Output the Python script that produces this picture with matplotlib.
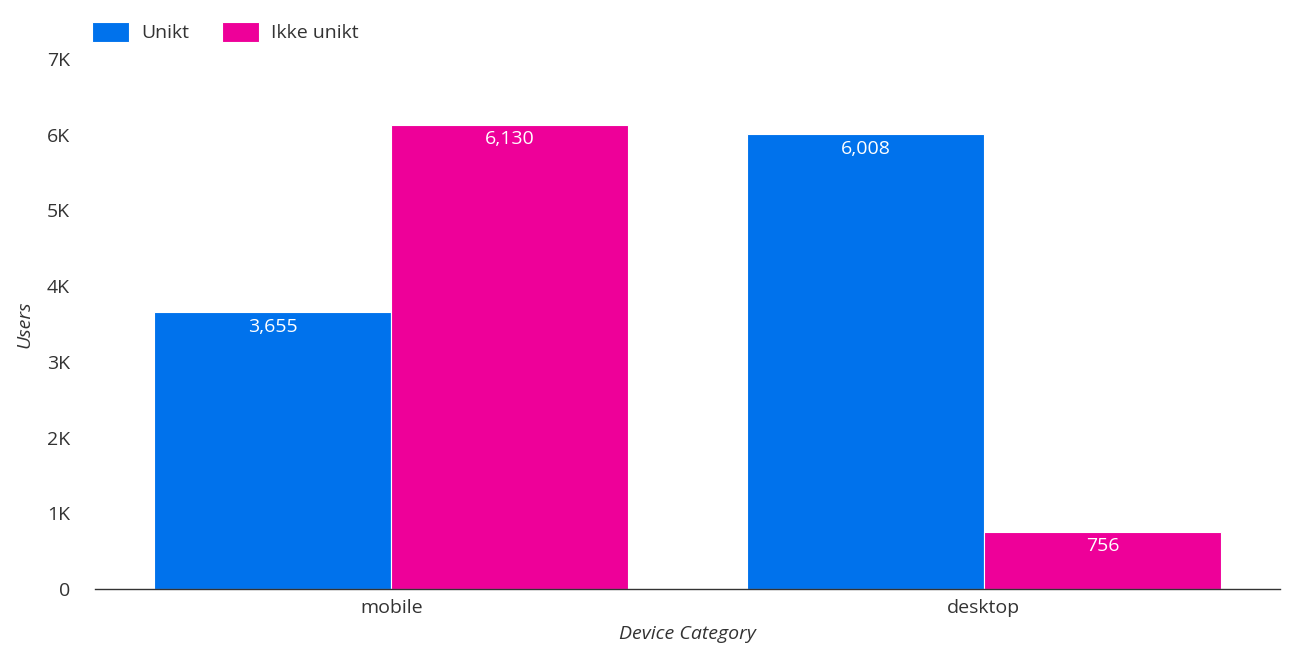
import matplotlib.pyplot as plt
import numpy as np
from matplotlib.ticker import FuncFormatter

plt.rcParams['font.family'] = ['Open Sans', 'DejaVu Sans']

categories = ["mobile", "desktop"]
series_names = ["Unikt", "Ikke unikt"]
unikt = [3655, 6008]
ikke_unikt = [6130, 756]
colors = ["#0072EC", "#EE0099"]

fig = plt.figure(figsize=(13.11, 6.52), dpi=100)
ax = fig.add_axes([0.0725, 0.0966, 0.904, 0.8129])

x = np.arange(len(categories))
w = 0.4
for i, (vals, name) in enumerate(zip([unikt, ikke_unikt], series_names)):
    pos = x + (i - 0.5) * w
    bars = ax.bar(pos, vals, width=w, color=colors[i], label=name,
                  edgecolor="white", linewidth=0.8, zorder=2)
    for b, v in zip(bars, vals):
        ax.annotate(f"{v:,}", (b.get_x() + b.get_width() / 2, v),
                    xytext=(0, -4), textcoords="offset points",
                    ha="center", va="top", color="white", fontsize=14)

ax.set_xlim(-0.5, 1.5)
ax.set_ylim(0, 7000)
ax.set_yticks(range(0, 7001, 1000))
ax.yaxis.set_major_formatter(FuncFormatter(lambda v, p: "0" if v == 0 else f"{int(v / 1000)}K"))
ax.set_xticks(x)
ax.set_xticklabels(categories)
ax.tick_params(axis="both", length=0, labelsize=14, colors="#333333", pad=7)
ax.tick_params(axis="y", pad=18)

for s in ["top", "right", "left"]:
    ax.spines[s].set_visible(False)
ax.spines["bottom"].set_color("#333333")
ax.spines["bottom"].set_linewidth(1.0)

ax.set_xlabel("Device Category", fontstyle="italic", fontsize=14, color="#333333", labelpad=6)
ax.set_ylabel("Users", fontstyle="italic", fontsize=14, color="#333333", labelpad=10)

ax.legend(loc="upper left", bbox_to_anchor=(-0.017, 1.103), ncol=2, frameon=False,
          fontsize=14, handlelength=1.9, handleheight=1.2, columnspacing=1.7,
          handletextpad=0.6, labelcolor="#333333")

fig.savefig("out.png", dpi=100, facecolor="white")
